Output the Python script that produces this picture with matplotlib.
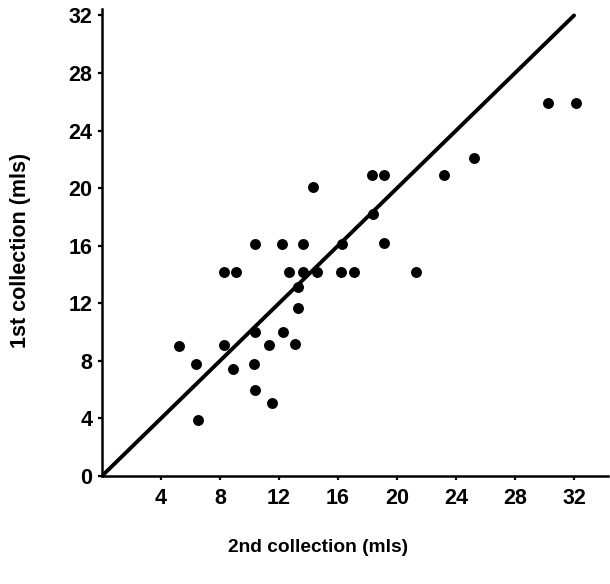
import matplotlib.pyplot as plt

plt.rcParams["font.family"] = ["Liberation Sans", "DejaVu Sans"]
plt.rcParams["font.weight"] = "bold"

# paired collections (mls)
second = [14.3, 10.4, 12.2, 13.6, 8.3, 9.1, 12.7, 13.6, 14.6, 13.3, 13.3,
          10.4, 12.3, 5.2, 8.3, 11.3, 13.1, 6.4, 8.9, 10.3, 10.4, 11.5, 6.5,
          18.3, 19.1, 23.2, 18.4, 16.3, 19.1, 16.2, 17.1, 21.3, 30.2, 32.1, 25.2]
first = [20.1, 16.1, 16.1, 16.1, 14.2, 14.2, 14.2, 14.2, 14.2, 13.1, 11.7,
         10.0, 10.0, 9.0, 9.1, 9.1, 9.2, 7.8, 7.4, 7.8, 6.0, 5.1, 3.9,
         20.9, 20.9, 20.9, 18.2, 16.1, 16.2, 14.2, 14.2, 14.2, 25.9, 25.9, 22.1]
ticks = [4, 8, 12, 16, 20, 24, 28, 32]

fig = plt.figure(figsize=(6.1, 5.84), dpi=100)
ax = fig.add_axes([0.1672, 0.185, 0.8295, 0.7997])

ax.plot([0, 32], [0, 32], color="black", linewidth=2.8, solid_capstyle="round", zorder=2)
ax.scatter(second, first, s=62, color="black", zorder=3, linewidths=0)

ax.set_xlim(0, 34.3)
ax.set_ylim(0, 32.45)
ax.set_xticks(ticks)
ax.set_yticks([0] + ticks)
ax.spines["top"].set_visible(False)
ax.spines["right"].set_visible(False)
for s in ["left", "bottom"]:
    ax.spines[s].set_linewidth(1.8)
ax.tick_params(axis="both", direction="out", length=3, width=1.6, labelsize=15.5)
ax.tick_params(axis="x", pad=6)
ax.tick_params(axis="y", pad=4)
for lab in ax.get_xticklabels() + ax.get_yticklabels():
    lab.set_fontweight("bold")

fig.text(318 / 610, 1 - 548 / 584, "2nd collection (mls)", ha="center", va="center",
         fontsize=13.8, fontweight="bold")
fig.text(21 / 610, 1 - 250 / 584, "1st collection (mls)", ha="center", va="center",
         rotation=90, fontsize=15.5, fontweight="bold")

fig.savefig("out.png", dpi=100)
